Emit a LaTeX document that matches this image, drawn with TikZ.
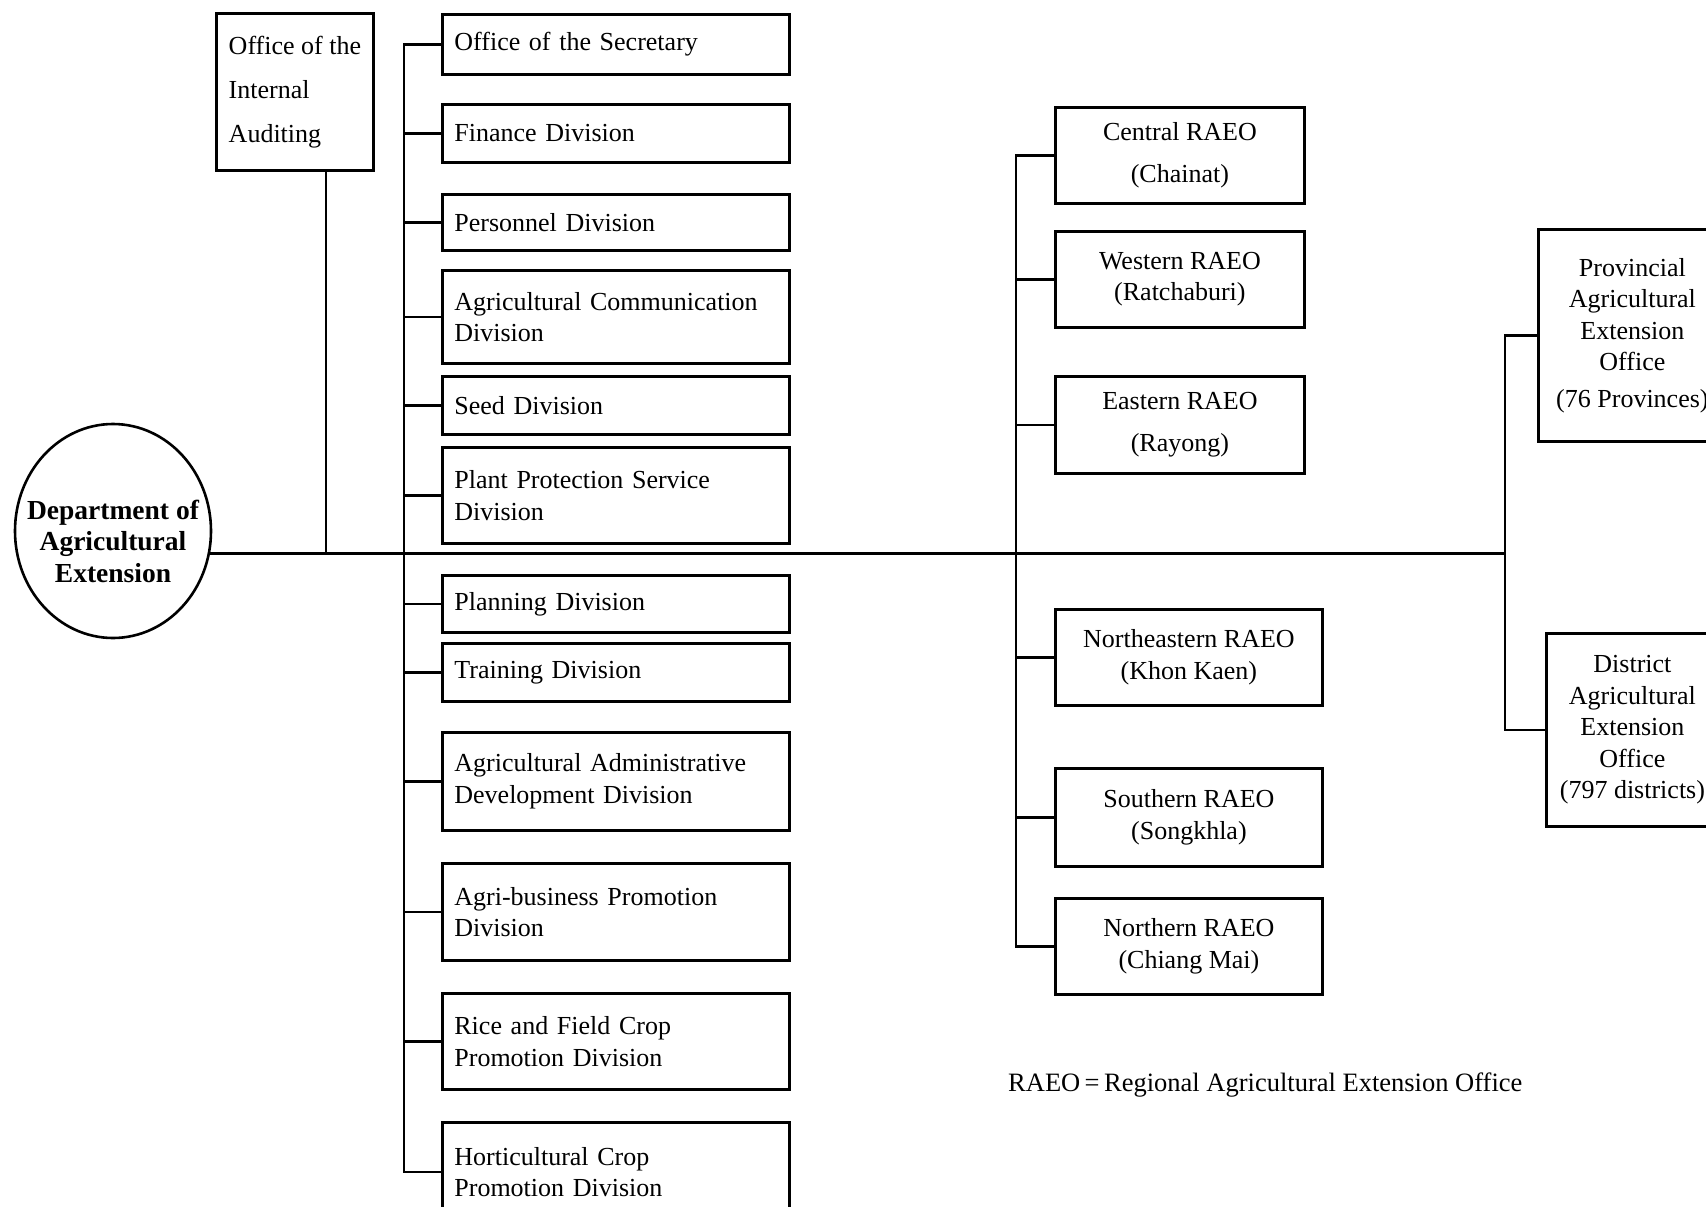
\documentclass[tikz,border=0pt]{standalone}
\usepackage{fontspec}
\setmainfont{Liberation Serif}
\usetikzlibrary{shapes.geometric}
\begin{document}
\begin{tikzpicture}[x=1pt,y=-1pt,
  every node/.style={font=\fontsize{26}{31.5}\selectfont},
  box/.style={draw, line width=2.8pt, rectangle, anchor=north west, inner ysep=0pt, inner xsep=12pt},
  divbox/.style={box, text width=323pt, minimum width=347pt, align=left},
  rbox/.style={box, align=center},
  link/.style={line width=2.6pt, line cap=rect}]
\fill[white] (0,0) rectangle (1706,1207);
\useasboundingbox (0,0) rectangle (1706,1207);

% head
\node[ellipse, draw, line width=2.6pt, minimum width=196pt, minimum height=214pt,
  inner xsep=-30pt, inner ysep=-10pt,
  align=center, font=\bfseries\fontsize{27.5}{31.5}\selectfont] (dept) at (113,531)
  {\mbox{}\\[8pt]Department of\\Agricultural\\Extension};

% internal auditing
\node[box, minimum width=157pt, minimum height=157pt, align=left,
  font=\fontsize{26}{44}\selectfont] (audit) at (215,12) {Office of the\\Internal\\Auditing};

% divisions
\node[divbox, minimum height=60pt] (sec) at (441,13) {Office of the Secretary};
\node[divbox, minimum height=58pt] (fin) at (441,103) {Finance Division};
\node[divbox, minimum height=56pt] (per) at (441,193) {Personnel Division};
\node[divbox, minimum height=93pt] (com) at (441,269) {Agricultural Communication\\Division};
\node[divbox, minimum height=58pt] (seed) at (441,375) {Seed Division};
\node[divbox, minimum height=96pt] (plant) at (441,446) {Plant Protection Service\\Division};
\node[divbox, minimum height=57pt] (plan) at (441,574) {Planning Division};
\node[divbox, minimum height=58pt] (train) at (441,642) {Training Division};
\node[divbox, minimum height=98pt] (admin) at (441,731) {Agricultural Administrative\\Development Division};
\node[divbox, minimum height=97pt] (agbus) at (441,862) {Agri-business Promotion\\Division};
\node[divbox, minimum height=96pt] (rice) at (441,992) {Rice and Field Crop\\Promotion Division};
\node[divbox, minimum height=99pt] (hort) at (441,1121) {Horticultural Crop\\Promotion Division};

% regional offices
\node[rbox, minimum width=249pt, minimum height=96pt] (cen) at (1054,106) {Central RAEO\\[10pt](Chainat)};
\node[rbox, minimum width=249pt, minimum height=96pt] (wes) at (1054,230) {Western RAEO\\(Ratchaburi)};
\node[rbox, minimum width=249pt, minimum height=97pt] (eas) at (1054,375) {Eastern RAEO\\[10pt](Rayong)};
\node[rbox, minimum width=267pt, minimum height=96pt] (ne) at (1054,608) {Northeastern RAEO\\(Khon Kaen)};
\node[rbox, minimum width=267pt, minimum height=98pt] (sou) at (1054,767) {Southern RAEO\\(Songkhla)};
\node[rbox, minimum width=267pt, minimum height=96pt] (nor) at (1054,897) {Northern RAEO\\(Chiang Mai)};

% provincial / district
\node[rbox, minimum width=188pt, minimum height=212pt] (prov) at (1537,228)
  {Provincial\\Agricultural\\Extension\\Office\\[5pt](76 Provinces)};
\node[rbox, minimum width=172pt, minimum height=193pt] (dist) at (1545,632)
  {District\\Agricultural\\Extension\\Office\\(797 districts)};

% legend
\node[anchor=west, inner sep=0pt, font=\fontsize{26.5}{30}\selectfont] (legend) at (1008,1085)
  {RAEO\,=\,Regional Agricultural Extension Office};

% bus coordinates
\coordinate (mj) at (dept.-13.5);
\coordinate (audX) at (326,0);
\coordinate (busL) at (404,0);
\coordinate (busR) at (1016,0);
\coordinate (busP) at (1505,0);

% main line
\draw[link] (mj) -- (mj -| busP);
\draw[link] (audit.south -| audX) -- (mj -| audX);

% division bus
\draw[link] (sec.west -| busL) -- (hort.west -| busL);
\foreach \n in {sec,fin,per,com,seed,plant,plan,train,admin,agbus,rice,hort}
  \draw[link] (\n.west) -- (\n.west -| busL);

% regional bus
\draw[link] (cen.west -| busR) -- (nor.west -| busR);
\foreach \n in {cen,wes,eas,ne,sou,nor}
  \draw[link] (\n.west) -- (\n.west -| busR);

% provincial bus
\draw[link] (prov.west -| busP) -- (dist.west -| busP);
\foreach \n in {prov,dist}
  \draw[link] (\n.west) -- (\n.west -| busP);
\end{tikzpicture}
\end{document}
